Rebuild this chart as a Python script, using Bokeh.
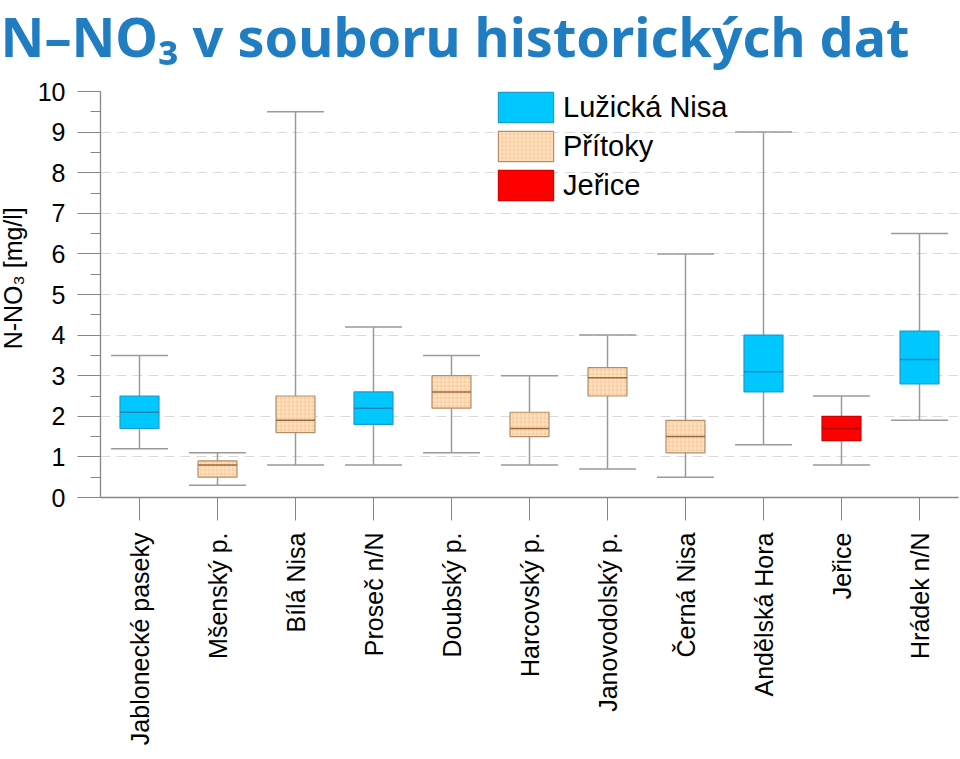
import math
from bokeh.plotting import figure
from bokeh.layouts import column, row
from bokeh.models import (ColumnDataSource, FactorRange, FixedTicker, Label,
                          Legend, LegendItem)
from bokeh.transform import dodge
from bokeh.embed import file_html
from bokeh.resources import INLINE

# ---------------- data ----------------
categories = ["Jablonecké paseky", "Mšenský p.", "Bílá Nisa", "Proseč n/N",
              "Doubský p.", "Harcovský p.", "Janovodolský p.", "Černá Nisa",
              "Andělská Hora", "Jeřice", "Hrádek n/N"]
groups = ["Lužická Nisa", "Přítoky", "Přítoky", "Lužická Nisa", "Přítoky",
          "Přítoky", "Přítoky", "Přítoky", "Lužická Nisa", "Jeřice",
          "Lužická Nisa"]
whisker_low = [1.2, 0.3, 0.8, 0.8, 1.1, 0.8, 0.7, 0.5, 1.3, 0.8, 1.9]
quartile_1 = [1.7, 0.5, 1.6, 1.8, 2.2, 1.5, 2.5, 1.1, 2.6, 1.4, 2.8]
median = [2.1, 0.8, 1.9, 2.2, 2.6, 1.7, 2.95, 1.5, 3.1, 1.7, 3.4]
quartile_3 = [2.5, 0.9, 2.5, 2.6, 3.0, 2.1, 3.2, 1.9, 4.0, 2.0, 4.1]
whisker_high = [3.5, 1.1, 9.5, 4.2, 3.5, 3.0, 4.0, 6.0, 9.0, 2.5, 6.5]
legend_order = ["Lužická Nisa", "Přítoky", "Jeřice"]
y_ticks = list(range(0, 11))
y_minor = [i + 0.5 for i in range(0, 10)]
title_text = "N–NO₃ v souboru historických dat"
y_label_text = "N-NO₃ [mg/l]"

# ---------------- styles ----------------
styles = {
    "Lužická Nisa": dict(fill_color="#00c8ff", line_color="#1b9ccc",
                         median="#1a86b8", hatch=None),
    "Přítoky": dict(fill_color="#fde2c2", line_color="#b48e68",
                    median="#9a6a3e", hatch="+"),
    "Jeřice": dict(fill_color="#ff0000", line_color="#d40000",
                   median="#c00000", hatch=None),
}
GREY = "#9a9a9a"
AXIS = "#868686"

W, H = 960, 759
TITLE_H = 75
YLAB_W = 30

# ---- title strip ----
pt = figure(width=W, height=TITLE_H, x_range=(0, W), y_range=(0, TITLE_H),
            output_backend="svg", toolbar_location=None,
            x_axis_location=None, y_axis_location=None, min_border=0)
pt.grid.visible = False
pt.outline_line_color = None
pt.add_layout(Label(x=0, y=40, text=title_text,
                    text_font="Noto Sans", text_font_style="bold",
                    text_font_size="54px", text_color="#217dc2",
                    text_align="left", text_baseline="alphabetic"))

# ---- y label strip (frame aligned with the main chart's frame) ----
py = figure(width=YLAB_W, height=H - TITLE_H, x_range=(0, YLAB_W),
            y_range=(0, 10), output_backend="svg", toolbar_location=None,
            x_axis_location=None, y_axis_location=None, min_border=0)
py.grid.visible = False
py.outline_line_color = None
py.add_layout(Label(x=12, y=5.4, text=y_label_text,
                    angle=math.pi / 2, text_font="Liberation Sans",
                    text_font_size="25px", text_color="black",
                    text_align="center", text_baseline="middle"))

# ---- main chart ----
p = figure(x_range=FactorRange(factors=categories, range_padding=0),
           y_range=(0, 10), width=W - YLAB_W, height=H - TITLE_H,
           output_backend="svg", toolbar_location=None,
           min_border_left=100 - YLAB_W, min_border_right=2,
           min_border_top=91 - TITLE_H, min_border_bottom=H - 497)
p.outline_line_color = None

src_all = ColumnDataSource(dict(cat=categories, low=whisker_low, q1=quartile_1,
                                med=median, q3=quartile_3, high=whisker_high))

p.segment(x0="cat", y0="low", x1="cat", y1="high", source=src_all,
          line_color=GREY, line_width=1.5)
for col in ("low", "high"):
    p.segment(x0=dodge("cat", -0.365, range=p.x_range), y0=col,
              x1=dodge("cat", 0.365, range=p.x_range), y1=col,
              source=src_all, line_color=GREY, line_width=1.5)

legend_items = []
for g in legend_order:
    idx = [i for i, gg in enumerate(groups) if gg == g]
    src = ColumnDataSource(dict(
        cat=[categories[i] for i in idx],
        q1=[quartile_1[i] for i in idx],
        q3=[quartile_3[i] for i in idx],
        med=[median[i] for i in idx]))
    st = styles[g]
    kw = {}
    if st["hatch"]:
        kw = dict(hatch_pattern=st["hatch"], hatch_color="#f3b06e",
                  hatch_alpha=0.5, hatch_scale=4, hatch_weight=0.8)
    r = p.vbar(x="cat", bottom="q1", top="q3", width=0.5, source=src,
               fill_color=st["fill_color"], line_color=st["line_color"],
               line_width=1.2, **kw)
    p.segment(x0=dodge("cat", -0.25, range=p.x_range), y0="med",
              x1=dodge("cat", 0.25, range=p.x_range), y1="med",
              source=src, line_color=st["median"], line_width=1.5)
    legend_items.append(LegendItem(label=g, renderers=[r]))

legend = Legend(items=legend_items, location=(391, 293), padding=0, margin=0,
                spacing=1, glyph_width=69, glyph_height=38, label_height=30,
                label_standoff=3, label_text_font="Liberation Sans",
                label_text_font_size="29px", label_text_color="black",
                background_fill_alpha=0, border_line_alpha=0)
p.add_layout(legend, "center")

p.xgrid.visible = False
p.ygrid.ticker = FixedTicker(ticks=y_ticks)
p.ygrid.grid_line_color = "#d9d9d9"
p.ygrid.grid_line_dash = "10 6"
p.ygrid.grid_line_width = 1.2

p.yaxis.ticker = FixedTicker(ticks=y_ticks, minor_ticks=y_minor)
for ax in (p.xaxis[0], p.yaxis[0]):
    ax.axis_line_color = AXIS
    ax.axis_line_width = 1.3
    ax.major_tick_line_color = AXIS
    ax.minor_tick_line_color = AXIS
    ax.major_tick_in = 0
    ax.major_tick_out = 23
    ax.minor_tick_in = 0
    ax.major_label_text_font = "Liberation Sans"
    ax.major_label_text_font_size = "25px"
    ax.major_label_text_color = "black"
    ax.major_label_standoff = 12
p.yaxis.minor_tick_out = 10
p.xaxis.major_label_orientation = math.pi / 2

layout = column(pt, row(py, p))
open("out.html", "w").write(file_html(layout, INLINE))
